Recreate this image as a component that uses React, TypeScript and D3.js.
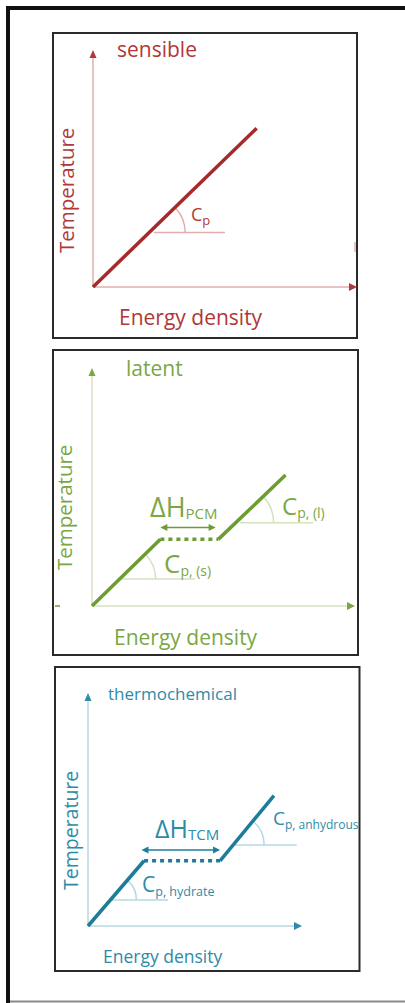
import React from "react";
import * as d3 from "d3";

// ---------- DATA (energy density / temperature, schematic units 0..100) ----------
const sensibleSegments = [
  [{ e: 0, t: 0 }, { e: 62, t: 67 }],
];
const sensiblePlateau: { e: number; t: number }[] = [];
const sensibleRefs = [{ level: 23, from: 23, to: 50, seg: 0 }];

const latentSegments = [
  [{ e: 0, t: 0 }, { e: 26, t: 28 }],
  [{ e: 48, t: 28 }, { e: 73.6, t: 55 }],
];
const latentPlateau = [{ e: 26, t: 28 }, { e: 48, t: 28 }];
const latentEnthalpyRange = { from: 26, to: 47, level: 33 };
const latentRefs = [
  { level: 11.3, from: 11.4, to: 39.2, seg: 0 },
  { level: 35, from: 56.3, to: 84, seg: 1 },
];

const tcmSegments = [
  [{ e: 0, t: 0 }, { e: 26.2, t: 28 }],
  [{ e: 61.7, t: 28 }, { e: 86.9, t: 56 }],
];
const tcmPlateau = [{ e: 26.2, t: 28 }, { e: 61.7, t: 28 }];
const tcmEnthalpyRange = { from: 25, to: 61.7, level: 32.6 };
const tcmRefs = [
  { level: 11.2, from: 11.2, to: 37.4, seg: 0 },
  { level: 34.8, from: 68.7, to: 97.5, seg: 1 },
];

const titles = ["sensible", "latent", "thermochemical"];
const xLabel = "Energy density";
const yLabel = "Temperature";

// ---------- LAYOUT / STYLE ----------
const FONT = "'Open Sans', 'Noto Sans', sans-serif";

type Pal = { line: string; text: string; axis: string; arrow: string };
const RED: Pal = { line: "#A62A2A", text: "#B03838", axis: "#E2AEAE", arrow: "#B03838" };
const GREEN: Pal = { line: "#6C9C32", text: "#7AA744", axis: "#D3E3BE", arrow: "#7AA744" };
const TEAL: Pal = { line: "#1D7C98", text: "#2D8BA8", axis: "#B6D8E3", arrow: "#2D8BA8" };

function Arrow({ x, y, dir, size, half, fill }: { x: number; y: number; dir: "r" | "l" | "u"; size: number; half: number; fill: string }) {
  let pts: [number, number][];
  if (dir === "r") pts = [[x, y], [x - size, y - half], [x - size, y + half]];
  else if (dir === "l") pts = [[x, y], [x + size, y - half], [x + size, y + half]];
  else pts = [[x, y], [x - half, y + size], [x + half, y + size]];
  return <polygon points={pts.map((p) => p.join(",")).join(" ")} fill={fill} />;
}

type PanelProps = {
  box: [number, number, number, number];
  origin: [number, number];
  xEnd: number;
  yTop: number;
  pal: Pal;
  segments: { e: number; t: number }[][];
  plateau: { e: number; t: number }[];
  refs: { level: number; from: number; to: number; seg: number }[];
  radii: number[];
  enthalpy?: { from: number; to: number; level: number };
  children?: React.ReactNode;
};

function Panel(p: PanelProps) {
  const [bx0, by0, bx1, by1] = p.box;
  const [ox, oy] = p.origin;
  const x = d3.scaleLinear().domain([0, 100]).range([ox, p.xEnd]);
  const y = d3.scaleLinear().domain([0, 100]).range([oy, p.yTop]);
  const line = d3
    .line<{ e: number; t: number }>()
    .x((d) => x(d.e))
    .y((d) => y(d.t));

  return (
    <g>
      <rect x={bx0} y={by0} width={bx1 - bx0} height={by1 - by0} fill="#fff" stroke="#2a2a2a" strokeWidth={2} />
      {/* axes */}
      <line x1={ox} y1={oy} x2={x(100) - 4} y2={oy} stroke={p.pal.axis} strokeWidth={1.5} />
      <line x1={ox} y1={oy} x2={ox} y2={y(100) + 4} stroke={p.pal.axis} strokeWidth={1.5} />
      <Arrow x={x(100)} y={oy} dir="r" size={8} half={4} fill={p.pal.arrow} />
      <Arrow x={ox} y={y(100)} dir="u" size={8} half={3.5} fill={p.pal.arrow} />
      {/* reference lines + arcs */}
      {p.refs.map((r, i) => {
        const s = p.segments[r.seg];
        const px0 = x(s[0].e), py0 = y(s[0].t), px1 = x(s[1].e), py1 = y(s[1].t);
        const ly = y(r.level);
        const cx = px0 + ((ly - py0) * (px1 - px0)) / (py1 - py0);
        const theta = Math.atan2(py0 - py1, px1 - px0);
        const rad = p.radii[i];
        const path = d3.path();
        path.moveTo(cx + rad, ly);
        path.arc(cx, ly, rad, 0, -theta, true);
        return (
          <g key={i}>
            <line x1={x(r.from)} y1={ly} x2={x(r.to)} y2={ly} stroke={p.pal.axis} strokeWidth={1.5} />
            <path d={path.toString()} fill="none" stroke={p.pal.axis} strokeWidth={1.5} />
          </g>
        );
      })}
      {/* curve */}
      {p.segments.map((s, i) => (
        <path key={i} d={line(s) || ""} fill="none" stroke={p.pal.line} strokeWidth={3.5} strokeLinecap="butt" />
      ))}
      {p.plateau.length > 0 && (
        <path d={line(p.plateau) || ""} fill="none" stroke={p.pal.line} strokeWidth={3.5} strokeDasharray="4 4" />
      )}
      {p.enthalpy && (
        <g>
          <line
            x1={x(p.enthalpy.from) + 5}
            x2={x(p.enthalpy.to) - 5}
            y1={y(p.enthalpy.level)}
            y2={y(p.enthalpy.level)}
            stroke={p.pal.line}
            strokeWidth={1.5}
          />
          <Arrow x={x(p.enthalpy.from)} y={y(p.enthalpy.level)} dir="l" size={7} half={3.5} fill={p.pal.line} />
          <Arrow x={x(p.enthalpy.to)} y={y(p.enthalpy.level)} dir="r" size={7} half={3.5} fill={p.pal.line} />
        </g>
      )}
      {p.children}
    </g>
  );
}

export default function App() {
  return (
    <svg
      width={405}
      height={1003}
      viewBox="0 0 405 1003"
      style={{ position: "fixed", left: 0, top: 0, background: "#fff" }}
      fontFamily={FONT}
    >
      <rect x={0} y={0} width={405} height={1003} fill="#fff" />
      {/* outer frame */}
      <line x1={6} y1={8} x2={405} y2={8} stroke="#111" strokeWidth={4} />
      <line x1={8} y1={6} x2={8} y2={1003} stroke="#111" strokeWidth={4} />
      <line x1={10} y1={1001.5} x2={405} y2={1001.5} stroke="#8a8a8a" strokeWidth={2} />

      {/* Panel 1: sensible */}
      <Panel
        box={[53, 33, 357, 338]}
        origin={[93, 287]}
        xEnd={357}
        yTop={50}
        pal={RED}
        segments={sensibleSegments}
        plateau={sensiblePlateau}
        refs={sensibleRefs}
        radii={[36]}
      >
        <line x1={355} y1={242} x2={355} y2={252} stroke={RED.axis} strokeWidth={1.5} />
        <text x={117} y={57} fontSize={21} fill={RED.text}>{titles[0]}</text>
        <text x={119} y={324.5} fontSize={21} fill={RED.text}>{xLabel}</text>
        <text transform="translate(74,253) rotate(-90)" fontSize={20.5} fill={RED.text}>{yLabel}</text>
        <text x={191} y={221} fontSize={18} fill={RED.text}>
          C<tspan fontSize={13} dy={4}>p</tspan>
        </text>
      </Panel>

      {/* Panel 2: latent */}
      <Panel
        box={[53, 350, 358, 655]}
        origin={[92, 606]}
        xEnd={355}
        yTop={368}
        pal={GREEN}
        segments={latentSegments}
        plateau={latentPlateau}
        refs={latentRefs}
        radii={[36, 38]}
        enthalpy={latentEnthalpyRange}
      >
        <line x1={55} y1={606} x2={60} y2={606} stroke={GREEN.line} strokeWidth={1.5} />
        <text x={126} y={375.5} fontSize={21} fill={GREEN.text}>{titles[1]}</text>
        <text x={114} y={645} fontSize={21} fill={GREEN.text}>{xLabel}</text>
        <text transform="translate(72,570) rotate(-90)" fontSize={20.5} fill={GREEN.text}>{yLabel}</text>
        <text x={150} y={516.5} fontSize={27} fill={GREEN.text}>
          ΔH<tspan fontSize={15} dy={2}>PCM</tspan>
        </text>
        <text x={164} y={573} fontSize={26} fill={GREEN.text}>
          C<tspan fontSize={14} dy={3}>p, (s)</tspan>
        </text>
        <text x={282} y={515} fontSize={24} fill={GREEN.text}>
          C<tspan fontSize={14} dy={3}>p, (l)</tspan>
        </text>
      </Panel>

      {/* Panel 3: thermochemical */}
      <Panel
        box={[55, 667, 359.5, 971]}
        origin={[88, 926]}
        xEnd={302}
        yTop={693}
        pal={TEAL}
        segments={tcmSegments}
        plateau={tcmPlateau}
        refs={tcmRefs}
        radii={[26, 31]}
        enthalpy={tcmEnthalpyRange}
      >
        <text x={108} y={700} fontSize={17} fill={TEAL.text}>{titles[2]}</text>
        <text x={103} y={963} fontSize={17.5} fill={TEAL.text}>{xLabel}</text>
        <text transform="translate(78,890) rotate(-90)" fontSize={19.5} fill={TEAL.text}>{yLabel}</text>
        <text x={155} y={838} fontSize={25} fill={TEAL.text}>
          ΔH<tspan fontSize={15} dy={2}>TCM</tspan>
        </text>
        <text x={142} y={892} fontSize={21} fill={TEAL.text}>
          C<tspan fontSize={12.5} dy={4}>p, hydrate</tspan>
        </text>
        <text x={273} y={825} fontSize={19} fill={TEAL.text}>
          C<tspan fontSize={12} dy={4}>p, anhydrous</tspan>
        </text>
      </Panel>
    </svg>
  );
}
